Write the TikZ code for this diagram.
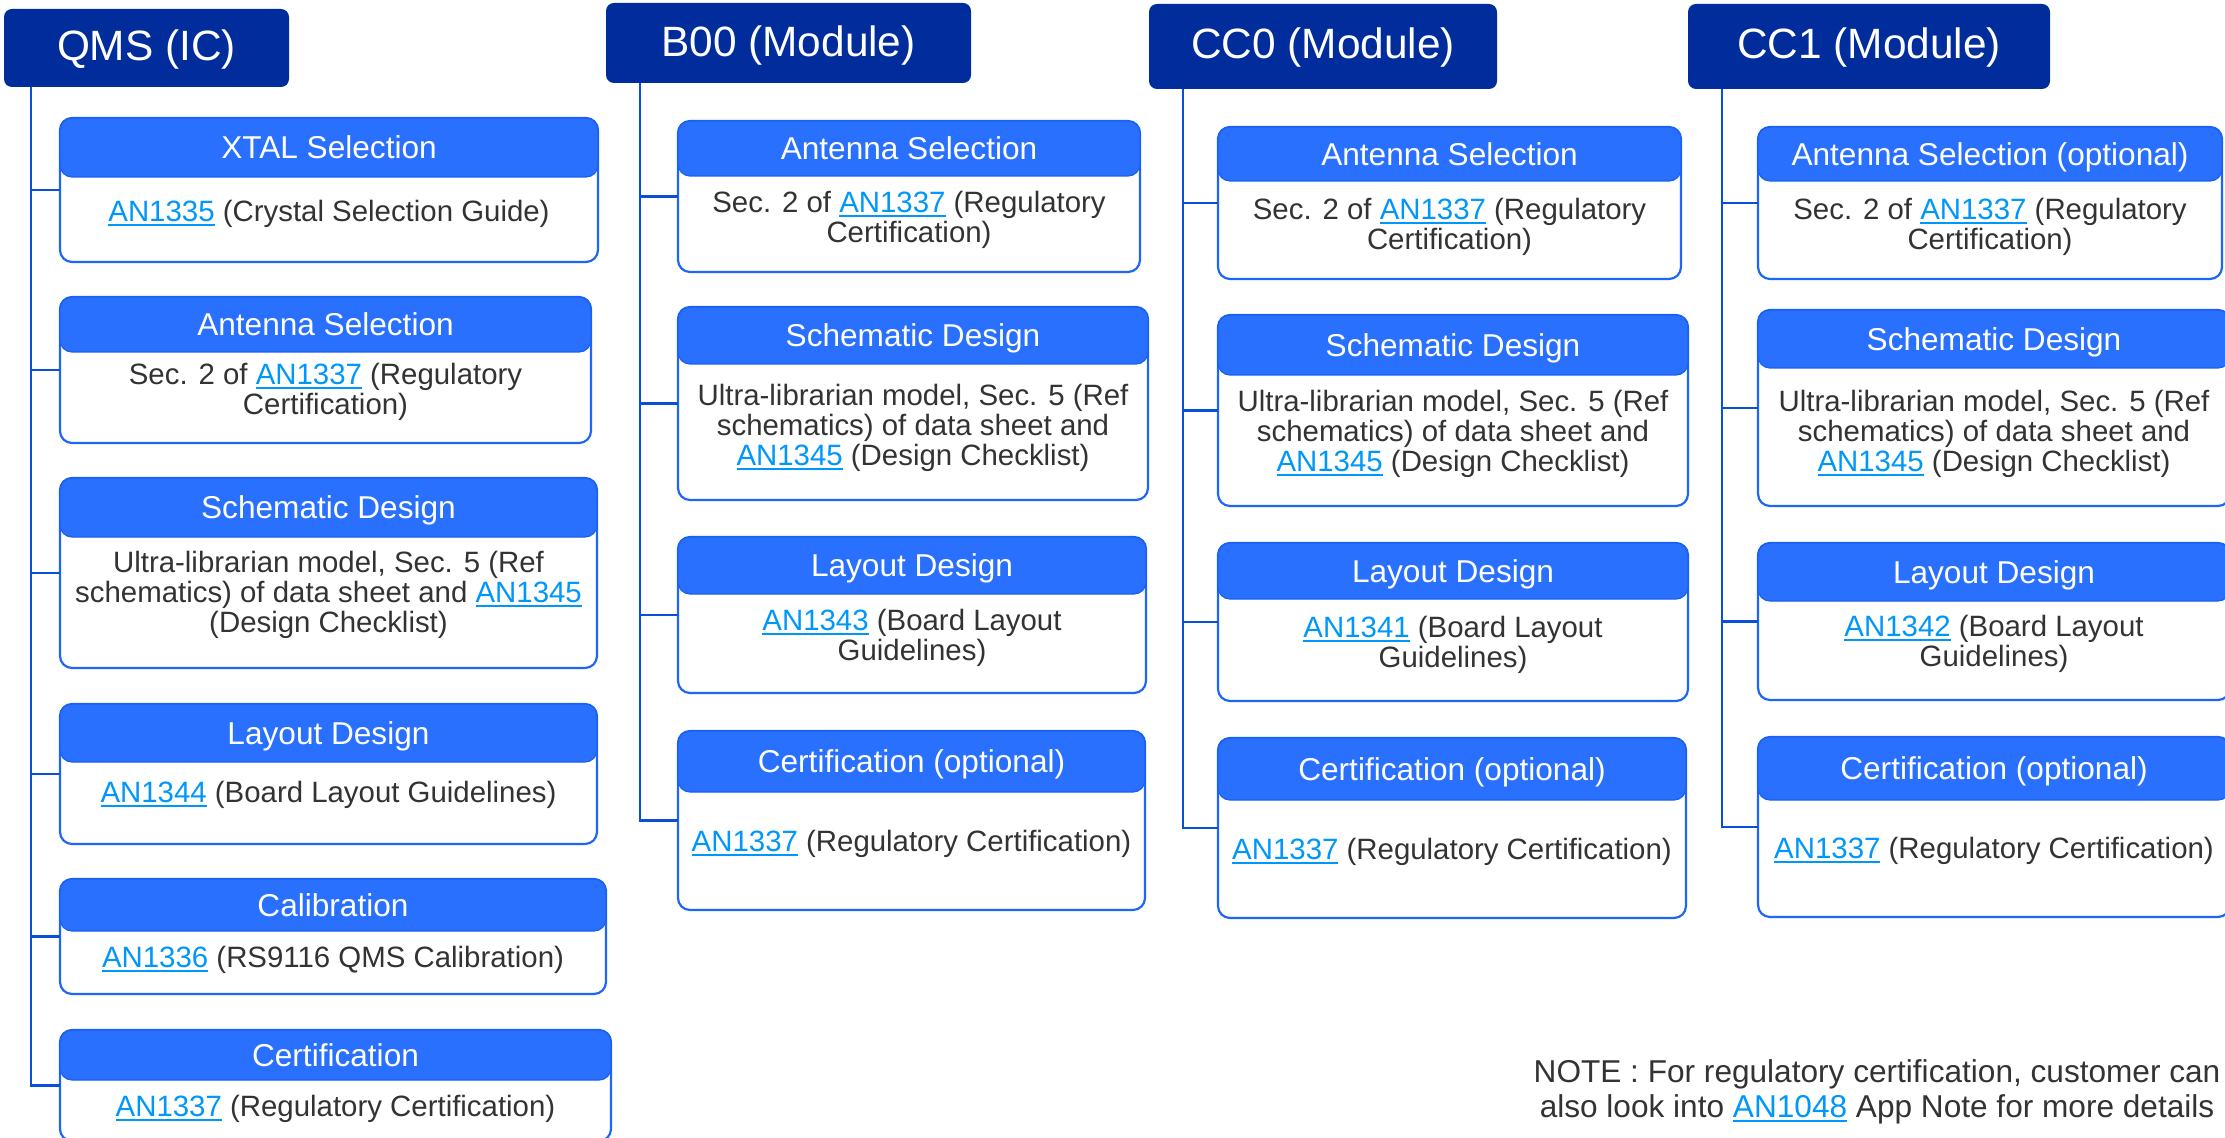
\documentclass[tikz,border=0pt]{standalone}
\usepackage{fontspec}
\setmainfont{Liberation Sans}
\usetikzlibrary{fit,calc}

\definecolor{hdrc}{HTML}{002D9B}
\definecolor{bandc}{HTML}{2970FF}
\definecolor{banddraw}{HTML}{1A60F0}
\definecolor{borderc}{HTML}{1E66F5}
\definecolor{connc}{HTML}{0A4FD8}
\definecolor{linkc}{HTML}{0097FB}
\definecolor{textc}{HTML}{333333}

% underlined application-note reference
\newcommand\anlink[1]{{\color{linkc}\setbox0=\hbox{#1}\rlap{\rule[-2.4pt]{\wd0}{1.3pt}}\box0}}

% one card: name, x1, y1, x2, y2, band bottom, title, body text, body centre y
\newcommand\card[9]{%
  \node[cardbody, fit={(#2,#3) (#4,#5)}] (#1) {};
  \node[cardband, fit={(#2,#3) (#4,#6)}] (#1h) {};
  \node[cardtitle] (#1t) at (#1h.center) {#7};
  \node[cardtext] (#1b) at ({(#2+#4)/2},#9) {#8};
}

\tikzset{
  cardbody/.style={draw=borderc, line width=1.1pt, fill=white, rounded corners=6pt, inner sep=0pt, outer sep=0pt},
  cardband/.style={draw=banddraw, line width=0.6pt, fill=bandc, rounded corners=6pt, inner sep=0pt, outer sep=0pt},
  hdr/.style={fill=hdrc, rounded corners=4pt, inner sep=0pt, outer sep=0pt},
  hdrtext/.style={text=white, font=\fontsize{21.2}{25}\selectfont, text height=15.2pt, text depth=0pt, inner sep=0pt},
  conn/.style={draw=connc, line width=1.4pt},
  cardtitle/.style={text=white, font=\fontsize{15.8}{18}\selectfont, text height=11.3pt, text depth=0pt, inner sep=0pt},
  cardtext/.style={text=textc, font=\fontsize{14.7}{15}\selectfont, align=center, inner sep=0pt},
  notetext/.style={text=textc, font=\fontsize{15.8}{17.3}\selectfont, align=center, inner sep=0pt},
}

\begin{document}
\begin{tikzpicture}[x=0.5pt, y=-0.5pt]
\useasboundingbox (0,0) rectangle (2225,1138);
\clip (0,0) rectangle (2225,1138);

% column headers
\node[hdr, fit={(4,9) (289,87)}] (qms) {};
\node[hdrtext] (qmst) at ($(qms.center)+(0,-3)$) {QMS (IC)};
\node[hdr, fit={(606,3) (971,83)}] (bzz) {};
\node[hdrtext] (bzzt) at ($(bzz.center)+(0,-2)$) {B00 (Module)};
\node[hdr, fit={(1149,4) (1497,89)}] (cczero) {};
\node[hdrtext] (cczerot) at ($(cczero.center)+(0,-3)$) {CC0 (Module)};
\node[hdr, fit={(1688,4) (2050,89)}] (ccone) {};
\node[hdrtext] (cconet) at ($(ccone.center)+(0,-3)$) {CC1 (Module)};

% QMS (IC)
\card{qa}{60}{118}{598}{262}{177}{XTAL Selection}{\anlink{AN1335} (Crystal Selection Guide)}{214}
\card{qb}{60}{297}{591}{443}{352}{Antenna Selection}{Sec. 2 of \anlink{AN1337} (Regulatory\\Certification)}{392}
\card{qc}{60}{478}{597}{668}{537}{Schematic Design}{Ultra-librarian model, Sec. 5 (Ref\\schematics) of data sheet and \anlink{AN1345}\\(Design Checklist)}{595}
\card{qd}{60}{704}{597}{844}{762}{Layout Design}{\anlink{AN1344} (Board Layout Guidelines)}{795}
\card{qe}{60}{879}{606}{994}{931}{Calibration}{\anlink{AN1336} (RS9116 QMS Calibration)}{960}
\card{qf}{60}{1030}{611}{1141}{1080}{Certification}{\anlink{AN1337} (Regulatory Certification)}{1109}

% B00 (Module)
\card{ba}{678}{121}{1140}{272}{176}{Antenna Selection}{Sec. 2 of \anlink{AN1337} (Regulatory\\Certification)}{220}
\card{bb}{678}{307}{1148}{500}{364}{Schematic Design}{Ultra-librarian model, Sec. 5 (Ref\\schematics) of data sheet and\\\anlink{AN1345} (Design Checklist)}{428}
\card{bc}{678}{537}{1146}{693}{594}{Layout Design}{\anlink{AN1343} (Board Layout\\Guidelines)}{638}
\card{bd}{678}{731}{1145}{910}{792}{Certification (optional)}{\anlink{AN1337} (Regulatory Certification)}{844}

% CC0 (Module)
\card{ca}{1218}{127}{1681}{279}{181}{Antenna Selection}{Sec. 2 of \anlink{AN1337} (Regulatory\\Certification)}{227}
\card{cb}{1218}{315}{1688}{506}{375}{Schematic Design}{Ultra-librarian model, Sec. 5 (Ref\\schematics) of data sheet and\\\anlink{AN1345} (Design Checklist)}{434}
\card{cc}{1218}{543}{1688}{701}{599}{Layout Design}{\anlink{AN1341} (Board Layout\\Guidelines)}{645}
\card{cd}{1218}{738}{1686}{918}{800}{Certification (optional)}{\anlink{AN1337} (Regulatory Certification)}{852}

% CC1 (Module)
\card{da}{1758}{127}{2222}{279}{181}{Antenna Selection (optional)}{Sec. 2 of \anlink{AN1337} (Regulatory\\Certification)}{227}
\card{db}{1758}{310}{2230}{506}{368}{Schematic Design}{Ultra-librarian model, Sec. 5 (Ref\\schematics) of data sheet and\\\anlink{AN1345} (Design Checklist)}{434}
\card{dc}{1758}{543}{2230}{700}{601}{Layout Design}{\anlink{AN1342} (Board Layout\\Guidelines)}{644}
\card{dd}{1758}{737}{2230}{917}{800}{Certification (optional)}{\anlink{AN1337} (Regulatory Certification)}{851}

% tree connectors
\coordinate (qmsT) at (31,87);
\coordinate (bzzT) at (640,83);
\coordinate (cczeroT) at (1183,89);
\coordinate (cconeT) at (1722,89);

\draw[conn] (qmsT) |- (qf.west);
\foreach \n in {qa,qb,qc,qd,qe} \draw[conn] (qmsT |- \n.west) -- (\n.west);
\draw[conn] (bzzT) |- (bd.west);
\foreach \n in {ba,bb,bc} \draw[conn] (bzzT |- \n.west) -- (\n.west);
\draw[conn] (cczeroT) |- (cd.west);
\foreach \n in {ca,cb,cc} \draw[conn] (cczeroT |- \n.west) -- (\n.west);
\draw[conn] (cconeT) |- (dd.west);
\foreach \n in {da,db,dc} \draw[conn] (cconeT |- \n.west) -- (\n.west);

% footnote
\node[notetext] (note) at (1877,1092) {NOTE : For regulatory certification, customer can\\also look into \anlink{AN1048} App Note for more details};
\end{tikzpicture}
\end{document}
